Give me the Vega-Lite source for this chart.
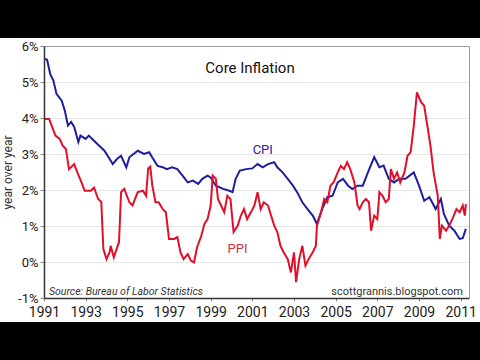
{
  "$schema": "https://vega.github.io/schema/vega-lite/v6.json",
  "width": 480,
  "height": 284,
  "autosize": {"type": "none"},
  "padding": {"left": 0, "right": 0, "top": 38, "bottom": 38},
  "background": "black",
  "config": {
    "view": {"fill": "white", "stroke": null},
    "font": "Roboto, sans-serif",
    "axis": {
      "labelFont": "Roboto, sans-serif",
      "titleFont": "Roboto, sans-serif",
      "labelColor": "#222222",
      "titleColor": "#333333"
    }
  },
  "title": {
    "text": "Core Inflation",
    "anchor": "middle",
    "frame": "group",
    "offset": -50,
    "dx": 10,
    "baseline": "alphabetic",
    "font": "Roboto, sans-serif",
    "fontSize": 15,
    "fontWeight": "normal",
    "color": "#111111"
  },
  "data": {
    "values": [
      {"series": "CPI", "year": 1991.05, "pct": 5.64},
      {"series": "CPI", "year": 1991.15, "pct": 5.62},
      {"series": "CPI", "year": 1991.3, "pct": 5.22},
      {"series": "CPI", "year": 1991.45, "pct": 5.04},
      {"series": "CPI", "year": 1991.6, "pct": 4.67},
      {"series": "CPI", "year": 1991.85, "pct": 4.48},
      {"series": "CPI", "year": 1992.0, "pct": 4.2},
      {"series": "CPI", "year": 1992.15, "pct": 3.79},
      {"series": "CPI", "year": 1992.3, "pct": 3.89},
      {"series": "CPI", "year": 1992.45, "pct": 3.75},
      {"series": "CPI", "year": 1992.65, "pct": 3.33},
      {"series": "CPI", "year": 1992.75, "pct": 3.51},
      {"series": "CPI", "year": 1993.0, "pct": 3.42},
      {"series": "CPI", "year": 1993.15, "pct": 3.51},
      {"series": "CPI", "year": 1993.4, "pct": 3.37},
      {"series": "CPI", "year": 1993.65, "pct": 3.23},
      {"series": "CPI", "year": 1993.9, "pct": 3.09},
      {"series": "CPI", "year": 1994.1, "pct": 2.91},
      {"series": "CPI", "year": 1994.3, "pct": 2.72},
      {"series": "CPI", "year": 1994.5, "pct": 2.86},
      {"series": "CPI", "year": 1994.7, "pct": 2.95},
      {"series": "CPI", "year": 1994.95, "pct": 2.63},
      {"series": "CPI", "year": 1995.1, "pct": 2.91},
      {"series": "CPI", "year": 1995.5, "pct": 3.09},
      {"series": "CPI", "year": 1995.8, "pct": 3.0},
      {"series": "CPI", "year": 1996.05, "pct": 3.05},
      {"series": "CPI", "year": 1996.2, "pct": 2.9},
      {"series": "CPI", "year": 1996.45, "pct": 2.67},
      {"series": "CPI", "year": 1996.7, "pct": 2.63},
      {"series": "CPI", "year": 1996.9, "pct": 2.58},
      {"series": "CPI", "year": 1997.15, "pct": 2.63},
      {"series": "CPI", "year": 1997.4, "pct": 2.58},
      {"series": "CPI", "year": 1997.65, "pct": 2.4},
      {"series": "CPI", "year": 1997.9, "pct": 2.21},
      {"series": "CPI", "year": 1998.15, "pct": 2.26},
      {"series": "CPI", "year": 1998.4, "pct": 2.17},
      {"series": "CPI", "year": 1998.6, "pct": 2.31},
      {"series": "CPI", "year": 1998.85, "pct": 2.4},
      {"series": "CPI", "year": 1999.0, "pct": 2.35},
      {"series": "CPI", "year": 1999.25, "pct": 2.12},
      {"series": "CPI", "year": 1999.6, "pct": 2.03},
      {"series": "CPI", "year": 1999.9, "pct": 1.98},
      {"series": "CPI", "year": 2000.05, "pct": 1.94},
      {"series": "CPI", "year": 2000.2, "pct": 2.31},
      {"series": "CPI", "year": 2000.4, "pct": 2.54},
      {"series": "CPI", "year": 2000.7, "pct": 2.58},
      {"series": "CPI", "year": 2001.0, "pct": 2.6},
      {"series": "CPI", "year": 2001.25, "pct": 2.72},
      {"series": "CPI", "year": 2001.5, "pct": 2.63},
      {"series": "CPI", "year": 2001.75, "pct": 2.72},
      {"series": "CPI", "year": 2002.05, "pct": 2.77},
      {"series": "CPI", "year": 2002.2, "pct": 2.63},
      {"series": "CPI", "year": 2002.45, "pct": 2.49},
      {"series": "CPI", "year": 2002.7, "pct": 2.31},
      {"series": "CPI", "year": 2002.95, "pct": 2.12},
      {"series": "CPI", "year": 2003.15, "pct": 1.94},
      {"series": "CPI", "year": 2003.4, "pct": 1.66},
      {"series": "CPI", "year": 2003.65, "pct": 1.47},
      {"series": "CPI", "year": 2003.9, "pct": 1.29},
      {"series": "CPI", "year": 2004.1, "pct": 1.06},
      {"series": "CPI", "year": 2004.35, "pct": 1.47},
      {"series": "CPI", "year": 2004.6, "pct": 1.8},
      {"series": "CPI", "year": 2004.85, "pct": 1.84},
      {"series": "CPI", "year": 2005.1, "pct": 2.21},
      {"series": "CPI", "year": 2005.35, "pct": 2.31},
      {"series": "CPI", "year": 2005.6, "pct": 2.12},
      {"series": "CPI", "year": 2005.8, "pct": 2.03},
      {"series": "CPI", "year": 2006.05, "pct": 2.12},
      {"series": "CPI", "year": 2006.3, "pct": 2.12},
      {"series": "CPI", "year": 2006.55, "pct": 2.49},
      {"series": "CPI", "year": 2006.85, "pct": 2.91},
      {"series": "CPI", "year": 2007.1, "pct": 2.63},
      {"series": "CPI", "year": 2007.3, "pct": 2.68},
      {"series": "CPI", "year": 2007.55, "pct": 2.31},
      {"series": "CPI", "year": 2007.8, "pct": 2.21},
      {"series": "CPI", "year": 2008.05, "pct": 2.31},
      {"series": "CPI", "year": 2008.35, "pct": 2.31},
      {"series": "CPI", "year": 2008.75, "pct": 2.49},
      {"series": "CPI", "year": 2009.0, "pct": 2.12},
      {"series": "CPI", "year": 2009.25, "pct": 1.7},
      {"series": "CPI", "year": 2009.5, "pct": 1.8},
      {"series": "CPI", "year": 2009.8, "pct": 1.47},
      {"series": "CPI", "year": 2010.05, "pct": 1.75},
      {"series": "CPI", "year": 2010.2, "pct": 1.33},
      {"series": "CPI", "year": 2010.45, "pct": 1.01},
      {"series": "CPI", "year": 2010.7, "pct": 0.87},
      {"series": "CPI", "year": 2010.95, "pct": 0.64},
      {"series": "CPI", "year": 2011.1, "pct": 0.66},
      {"series": "CPI", "year": 2011.25, "pct": 0.92},
      {"series": "PPI", "year": 1991.05, "pct": 3.97},
      {"series": "PPI", "year": 1991.25, "pct": 3.97},
      {"series": "PPI", "year": 1991.4, "pct": 3.74},
      {"series": "PPI", "year": 1991.55, "pct": 3.51},
      {"series": "PPI", "year": 1991.75, "pct": 3.42},
      {"series": "PPI", "year": 1991.9, "pct": 3.23},
      {"series": "PPI", "year": 1992.05, "pct": 3.14},
      {"series": "PPI", "year": 1992.2, "pct": 2.58},
      {"series": "PPI", "year": 1992.45, "pct": 2.72},
      {"series": "PPI", "year": 1992.6, "pct": 2.49},
      {"series": "PPI", "year": 1992.8, "pct": 2.21},
      {"series": "PPI", "year": 1992.95, "pct": 1.98},
      {"series": "PPI", "year": 1993.25, "pct": 1.98},
      {"series": "PPI", "year": 1993.4, "pct": 2.07},
      {"series": "PPI", "year": 1993.6, "pct": 1.75},
      {"series": "PPI", "year": 1993.75, "pct": 1.67},
      {"series": "PPI", "year": 1993.85, "pct": 0.36},
      {"series": "PPI", "year": 1994.0, "pct": 0.08},
      {"series": "PPI", "year": 1994.15, "pct": 0.27},
      {"series": "PPI", "year": 1994.2, "pct": 0.45},
      {"series": "PPI", "year": 1994.35, "pct": 0.13},
      {"series": "PPI", "year": 1994.6, "pct": 0.55},
      {"series": "PPI", "year": 1994.7, "pct": 1.94},
      {"series": "PPI", "year": 1994.85, "pct": 2.03},
      {"series": "PPI", "year": 1995.1, "pct": 1.66},
      {"series": "PPI", "year": 1995.25, "pct": 1.57},
      {"series": "PPI", "year": 1995.5, "pct": 1.94},
      {"series": "PPI", "year": 1995.75, "pct": 1.98},
      {"series": "PPI", "year": 1995.9, "pct": 1.84},
      {"series": "PPI", "year": 1996.0, "pct": 2.6},
      {"series": "PPI", "year": 1996.1, "pct": 2.65},
      {"series": "PPI", "year": 1996.2, "pct": 2.12},
      {"series": "PPI", "year": 1996.35, "pct": 1.66},
      {"series": "PPI", "year": 1996.5, "pct": 1.66},
      {"series": "PPI", "year": 1996.7, "pct": 1.47},
      {"series": "PPI", "year": 1996.85, "pct": 1.38},
      {"series": "PPI", "year": 1997.0, "pct": 0.64},
      {"series": "PPI", "year": 1997.25, "pct": 0.64},
      {"series": "PPI", "year": 1997.4, "pct": 0.69},
      {"series": "PPI", "year": 1997.55, "pct": 0.27},
      {"series": "PPI", "year": 1997.7, "pct": 0.08},
      {"series": "PPI", "year": 1997.9, "pct": 0.22},
      {"series": "PPI", "year": 1998.05, "pct": 0.04},
      {"series": "PPI", "year": 1998.2, "pct": -0.01},
      {"series": "PPI", "year": 1998.35, "pct": 0.41},
      {"series": "PPI", "year": 1998.55, "pct": 0.73},
      {"series": "PPI", "year": 1998.7, "pct": 1.06},
      {"series": "PPI", "year": 1998.85, "pct": 1.19},
      {"series": "PPI", "year": 1999.0, "pct": 1.57},
      {"series": "PPI", "year": 1999.1, "pct": 2.4},
      {"series": "PPI", "year": 1999.25, "pct": 2.31},
      {"series": "PPI", "year": 1999.35, "pct": 1.75},
      {"series": "PPI", "year": 1999.5, "pct": 1.57},
      {"series": "PPI", "year": 1999.65, "pct": 1.38},
      {"series": "PPI", "year": 1999.8, "pct": 1.84},
      {"series": "PPI", "year": 1999.95, "pct": 1.75},
      {"series": "PPI", "year": 2000.1, "pct": 0.83},
      {"series": "PPI", "year": 2000.3, "pct": 1.01},
      {"series": "PPI", "year": 2000.45, "pct": 1.29},
      {"series": "PPI", "year": 2000.6, "pct": 1.47},
      {"series": "PPI", "year": 2000.75, "pct": 1.19},
      {"series": "PPI", "year": 2000.95, "pct": 1.4},
      {"series": "PPI", "year": 2001.1, "pct": 1.57},
      {"series": "PPI", "year": 2001.25, "pct": 1.94},
      {"series": "PPI", "year": 2001.4, "pct": 1.47},
      {"series": "PPI", "year": 2001.55, "pct": 1.66},
      {"series": "PPI", "year": 2001.75, "pct": 1.57},
      {"series": "PPI", "year": 2001.9, "pct": 1.29},
      {"series": "PPI", "year": 2002.05, "pct": 1.01},
      {"series": "PPI", "year": 2002.2, "pct": 0.83},
      {"series": "PPI", "year": 2002.35, "pct": 0.45},
      {"series": "PPI", "year": 2002.5, "pct": 0.27},
      {"series": "PPI", "year": 2002.7, "pct": 0.08},
      {"series": "PPI", "year": 2002.85, "pct": -0.29},
      {"series": "PPI", "year": 2003.0, "pct": 0.27},
      {"series": "PPI", "year": 2003.1, "pct": -0.56},
      {"series": "PPI", "year": 2003.25, "pct": 0.08},
      {"series": "PPI", "year": 2003.4, "pct": 0.45},
      {"series": "PPI", "year": 2003.55, "pct": -0.1},
      {"series": "PPI", "year": 2003.7, "pct": 0.08},
      {"series": "PPI", "year": 2003.9, "pct": 0.27},
      {"series": "PPI", "year": 2004.05, "pct": 0.45},
      {"series": "PPI", "year": 2004.1, "pct": 1.01},
      {"series": "PPI", "year": 2004.3, "pct": 1.38},
      {"series": "PPI", "year": 2004.45, "pct": 1.75},
      {"series": "PPI", "year": 2004.6, "pct": 1.66},
      {"series": "PPI", "year": 2004.75, "pct": 2.12},
      {"series": "PPI", "year": 2004.9, "pct": 2.21},
      {"series": "PPI", "year": 2005.1, "pct": 2.49},
      {"series": "PPI", "year": 2005.25, "pct": 2.67},
      {"series": "PPI", "year": 2005.4, "pct": 2.58},
      {"series": "PPI", "year": 2005.55, "pct": 2.77},
      {"series": "PPI", "year": 2005.7, "pct": 2.58},
      {"series": "PPI", "year": 2005.9, "pct": 2.21},
      {"series": "PPI", "year": 2006.05, "pct": 1.57},
      {"series": "PPI", "year": 2006.15, "pct": 1.47},
      {"series": "PPI", "year": 2006.3, "pct": 1.66},
      {"series": "PPI", "year": 2006.45, "pct": 1.75},
      {"series": "PPI", "year": 2006.6, "pct": 1.66},
      {"series": "PPI", "year": 2006.7, "pct": 0.87},
      {"series": "PPI", "year": 2006.85, "pct": 1.29},
      {"series": "PPI", "year": 2007.0, "pct": 1.19},
      {"series": "PPI", "year": 2007.1, "pct": 1.94},
      {"series": "PPI", "year": 2007.25, "pct": 1.84},
      {"series": "PPI", "year": 2007.4, "pct": 1.66},
      {"series": "PPI", "year": 2007.55, "pct": 1.75},
      {"series": "PPI", "year": 2007.65, "pct": 2.58},
      {"series": "PPI", "year": 2007.8, "pct": 2.31},
      {"series": "PPI", "year": 2007.95, "pct": 2.49},
      {"series": "PPI", "year": 2008.1, "pct": 2.21},
      {"series": "PPI", "year": 2008.3, "pct": 2.49},
      {"series": "PPI", "year": 2008.45, "pct": 2.95},
      {"series": "PPI", "year": 2008.6, "pct": 3.05},
      {"series": "PPI", "year": 2008.75, "pct": 3.79},
      {"series": "PPI", "year": 2008.9, "pct": 4.71},
      {"series": "PPI", "year": 2009.1, "pct": 4.44},
      {"series": "PPI", "year": 2009.25, "pct": 4.34},
      {"series": "PPI", "year": 2009.4, "pct": 3.79},
      {"series": "PPI", "year": 2009.55, "pct": 3.23},
      {"series": "PPI", "year": 2009.7, "pct": 2.49},
      {"series": "PPI", "year": 2009.9, "pct": 1.84},
      {"series": "PPI", "year": 2010.0, "pct": 0.64},
      {"series": "PPI", "year": 2010.1, "pct": 1.01},
      {"series": "PPI", "year": 2010.3, "pct": 0.87},
      {"series": "PPI", "year": 2010.45, "pct": 1.01},
      {"series": "PPI", "year": 2010.6, "pct": 1.19},
      {"series": "PPI", "year": 2010.8, "pct": 1.47},
      {"series": "PPI", "year": 2010.95, "pct": 1.38},
      {"series": "PPI", "year": 2011.1, "pct": 1.57},
      {"series": "PPI", "year": 2011.2, "pct": 1.29},
      {"series": "PPI", "year": 2011.25, "pct": 1.61}
    ]
  },
  "layer": [
    {
      "mark": {"type": "line", "strokeWidth": 2},
      "encoding": {
        "x": {
          "field": "year",
          "type": "quantitative",
          "scale": {"domain": [1991, 2011.4], "range": [44, 469], "nice": false, "zero": false},
          "axis": {
            "orient": "bottom",
            "offset": -24,
            "values": [1991, 1993, 1995, 1997, 1999, 2001, 2003, 2005, 2007, 2009, 2011],
            "format": "d",
            "labelFlush": false,
            "labelOverlap": false,
            "grid": false,
            "title": null,
            "tickSize": 3,
            "tickColor": "#888888",
            "labelPadding": 4,
            "labelFontSize": 14,
            "domainColor": "#333333",
            "domainWidth": 1.5
          }
        },
        "y": {
          "field": "pct",
          "type": "quantitative",
          "scale": {"domain": [-1, 6], "range": [260, 8], "nice": false, "zero": false},
          "axis": {
            "orient": "left",
            "offset": -44,
            "values": [-1, 0, 1, 2, 3, 4, 5, 6],
            "labelExpr": "datum.value + '%'",
            "title": "year over year",
            "titleFontSize": 12,
            "titleFontWeight": "normal",
            "titlePadding": 3,
            "labelFontSize": 13,
            "labelPadding": 2,
            "tickSize": 4,
            "tickColor": "#888888",
            "grid": true,
            "gridColor": "#e6e6e6",
            "gridWidth": 1,
            "domainColor": "#333333",
            "domainWidth": 1.5
          }
        },
        "color": {
          "field": "series",
          "type": "nominal",
          "scale": {"domain": ["CPI", "PPI"], "range": ["#1e1e9e", "#e0102a"]},
          "legend": null
        }
      }
    },
    {
      "data": {"values": [{}]},
      "mark": {"type": "text", "fontSize": 13, "color": "#2525a5", "align": "center", "baseline": "middle"},
      "encoding": {
        "x": {
          "datum": 2001.5,
          "axis": {"orient": "top", "offset": -8, "labels": false, "ticks": false, "grid": false, "title": null, "domainColor": "#999999", "domainWidth": 1}
        },
        "y": {
          "datum": 3.12,
          "axis": {"orient": "right", "offset": -11, "labels": false, "ticks": false, "grid": false, "title": null, "domainColor": "#999999", "domainWidth": 1}
        },
        "text": {"value": "CPI"}
      }
    },
    {
      "data": {"values": [{}]},
      "mark": {"type": "text", "fontSize": 13, "color": "#cc3048", "align": "center", "baseline": "middle"},
      "encoding": {
        "x": {"datum": 2000.29, "axis": null},
        "y": {"datum": 0.37, "axis": null},
        "text": {"value": "PPI"}
      }
    },
    {
      "data": {"values": [{}]},
      "mark": {"type": "text", "fontSize": 10.5, "fontStyle": "italic", "color": "#333333", "align": "left", "baseline": "middle"},
      "encoding": {
        "x": {"datum": 1991.24, "axis": null},
        "y": {"datum": -0.82, "axis": null},
        "text": {"value": "Source: Bureau of Labor Statistics"}
      }
    },
    {
      "data": {"values": [{}]},
      "mark": {"type": "text", "fontSize": 11, "color": "#333333", "align": "right", "baseline": "middle"},
      "encoding": {
        "x": {"datum": 2011.11, "axis": null},
        "y": {"datum": -0.82, "axis": null},
        "text": {"value": "scottgrannis.blogspot.com"}
      }
    }
  ]
}
